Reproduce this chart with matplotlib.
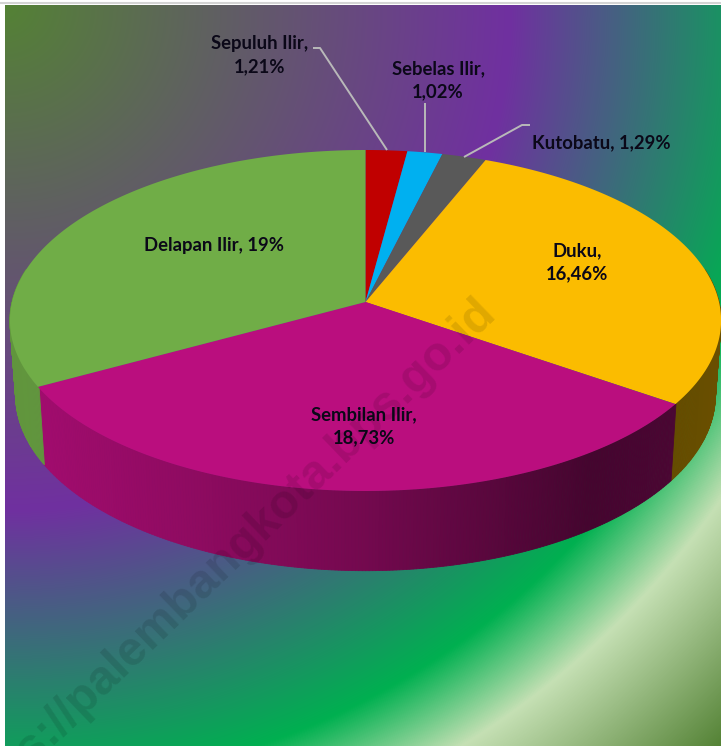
import numpy as np
import matplotlib
matplotlib.use("Agg")
import matplotlib.pyplot as plt
from matplotlib.path import Path
from matplotlib.transforms import Transform, Affine2D
from matplotlib.colors import LinearSegmentedColormap, to_rgb

W, H = 721, 746

districts = ["Sepuluh Ilir", "Sebelas Ilir", "Kutobatu", "Duku", "Sembilan Ilir", "Delapan Ilir"]
shares = [1.21, 1.02, 1.29, 16.46, 18.73, 19]
share_labels = ["Sepuluh Ilir,\n1,21%", "Sebelas Ilir,\n1,02%", "Kutobatu, 1,29%",
                "Duku,\n16,46%", "Sembilan Ilir,\n18,73%", "Delapan Ilir, 19%"]
colors = ["#C00000", "#00B0F0", "#595959", "#FBBC00", "#BA0E7E", "#70AD47"]

CX, CY, SX, SY, B = 365.5, 302.0, 353.5, 168.5, 0.1085
RX, RY, RCY = 0.984, 1.03, 376.0


def project(x, y):
    d = 1 + B * y
    return CX + SX * x / d, CY - SY * y / d


class Persp(Transform):
    input_dims = output_dims = 2
    is_separable = False
    has_inverse = False

    def transform_non_affine(self, xy):
        xy = np.asarray(xy, float)
        X, Y = project(xy[:, 0], xy[:, 1])
        return np.column_stack([X, Y])

    def transform_path_non_affine(self, path):
        big = path.transformed(Affine2D().scale(4000))
        poly = big.to_polygons(closed_only=False)[0] / 4000.0
        return Path(self.transform_non_affine(poly), closed=False)


def rim_point(X, Y):
    return CX + (X - CX) * RX, RCY + (Y - CY) * RY


fig = plt.figure(figsize=(W / 100, H / 100), dpi=100, facecolor="white")
ax = fig.add_axes([0, 0, 1, 1])
wedges, _ = ax.pie(shares, startangle=90, counterclock=False, colors=colors,
                   wedgeprops={"linewidth": 0})
ax.set_aspect("auto")
ax.set_xlim(0, W)
ax.set_ylim(H, 0)
ax.axis("off")

# background: radial gradient from the top-left corner of the plot area
bg_stops = [(0.0, "#548235"), (0.49, "#7030A0"), (0.76, "#00B050"), (0.845, "#C5E0B4"), (1.0, "#548235")]
cmap = LinearSegmentedColormap.from_list("bg", bg_stops, N=1024)
gx, gy = np.meshgrid(np.arange(5, W) + 0.5, np.arange(5, H) + 0.5)
rad = np.hypot(gx - 5, gy - 5) / np.hypot(W - 5, H - 5)
ax.imshow(rad, cmap=cmap, vmin=0, vmax=1, extent=(5, W, H, 5), aspect="auto", zorder=0)
ax.set_xlim(0, W)
ax.set_ylim(H, 0)
ax.plot([0, W], [3, 3], color="#d4d4d4", lw=1.5, zorder=1)

# side wall, drawn strip by strip from the same angles as the top face
shade_x = [10, 37, 200, 365, 500, 590, 721]
shade_f = [0.86, 0.87, 0.76, 0.62, 0.47, 0.37, 0.42]
for w, col in zip(wedges, colors):
    rgb = np.array(to_rgb(col))
    th = np.radians(np.arange(w.theta1, w.theta2 + 0.5, 0.5))
    if len(th) < 2:
        continue
    xs, ys = project(np.cos(th), np.sin(th))
    bx, by = rim_point(xs, ys)
    for i in range(len(th) - 1):
        if np.sin(th[i]) > 0.2 or np.sin(th[i + 1]) > 0.2:
            continue
        f = np.interp(xs[i], shade_x, shade_f)
        c = rgb * f
        ax.fill([xs[i], xs[i + 1], bx[i + 1], bx[i]], [ys[i], ys[i + 1], by[i + 1], by[i]],
                color=c, lw=0.6, zorder=2)

for w in wedges:
    w.set_transform(Persp() + ax.transData)
    w.set_zorder(3)
    w.set_clip_on(True)

# leader lines
lead = "#b9b9b9"
for lx, ly in [((313, 320, 387), (48, 48, 150)), ((425, 425), (103, 152)), ((530, 522, 464), (125, 125, 157))]:
    ax.plot(lx, ly, color=lead, lw=1.4, zorder=4, solid_capstyle="butt")

# data labels
label_pos = [(260, 55), (438, 80), (601, 143), (577, 262), (364, 426), (214, 246)]
for (lx, ly), s in zip(label_pos, share_labels):
    ax.text(lx, ly, s, ha="center", va="center", family="Lato", weight="bold",
            fontsize=13.3, color="#0b0818", linespacing=1.42, zorder=5)

# watermark
ax.text(-33, 827, "https://palembangkota.bps.go.id", rotation=44, rotation_mode="anchor",
        ha="left", va="baseline", family="Liberation Sans", weight="bold", fontsize=34.5,
        color="black", alpha=0.11, zorder=6, clip_on=True)

fig.savefig("out.png", dpi=100, facecolor="white")
